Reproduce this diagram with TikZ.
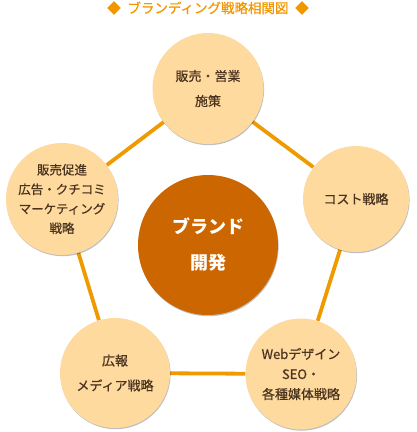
\documentclass[tikz,border=0pt]{standalone}
\usepackage{fontspec}
\setmainfont{Noto Sans CJK JP}
\newfontfamily\medfont[FakeBold=0.6]{Noto Sans CJK JP}
\usetikzlibrary{shadows,backgrounds}
\definecolor{peach}{HTML}{FFDA9E}
\definecolor{linec}{HTML}{EE9A00}
\definecolor{titlec}{HTML}{F29600}
\definecolor{corec}{HTML}{CC6600}
\definecolor{txt}{HTML}{4A3420}
\tikzset{
  bubble/.style={circle, fill=peach, inner sep=0pt, align=center, text=txt,
    font=\medfont\fontsize{13}{20}\selectfont,
    drop shadow={shadow xshift=0.6pt, shadow yshift=-1.2pt, opacity=0.25, fill=black}},
  core/.style={circle, fill=corec, inner sep=0pt, align=center, text=white,
    font=\fontsize{18}{36}\selectfont\bfseries, minimum size=140pt,
    drop shadow={shadow xshift=0.6pt, shadow yshift=-1.2pt, opacity=0.25, fill=black}},
  link/.style={draw=linec, line width=3.8pt},
  ttl/.style={text=titlec, font=\medfont\fontsize{13.5}{15}\selectfont, inner sep=0pt}
}
\begin{document}
\begin{tikzpicture}[x=1pt,y=-1pt]
\useasboundingbox (0,0) rectangle (416,432);
\node[ttl] (title) at (208,8) {◆\hspace{0.5em}ブランディング戦略相関図\hspace{0.5em}◆};
\node[bubble, minimum size=111pt, font=\medfont\fontsize{13}{25}\selectfont] (top) at (208,88.5) {販売・営業\\施策};
\node[bubble, minimum size=104pt, font=\medfont\fontsize{12.5}{19.5}\selectfont] (left) at (62,199) {販売促進\\広告・クチコミ\\マーケティング\\戦略};
\node[bubble, minimum size=106pt] (right) at (356,199) {コスト戦略};
\node[bubble, minimum size=110pt, font=\medfont\fontsize{13}{25}\selectfont] (bl) at (115,373) {広報\\メディア戦略};
\node[bubble, minimum size=111pt] (br) at (301,374) {Webデザイン\\SEO・\\各種媒体戦略};
\node[core] (core) at (208,245) {ブランド\\開発};
\begin{scope}[on background layer]
\draw[link] (top) -- (left);
\draw[link] (top) -- (right);
\draw[link] (right) -- (br);
\draw[link] (br) -- (bl);
\draw[link] (bl) -- (left);
\end{scope}
\end{tikzpicture}
\end{document}
